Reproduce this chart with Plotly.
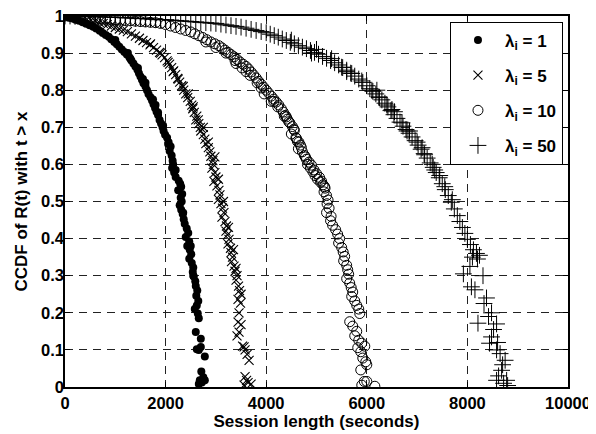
import plotly.graph_objects as go

# ---- data (session length in seconds, CCDF value) ----
x1 = [0, 40, 90, 150, 210, 280, 350, 420, 490, 560, 620, 690, 750, 810, 870, 920, 980, 1030, 1080, 1130,
      1180, 1230, 1280, 1320, 1360, 1400, 1440, 1470, 1500, 1530, 1560, 1600, 1630, 1660, 1700, 1730, 1760,
      1790, 1820, 1850, 1880, 1910, 1940, 1960, 1990, 2030, 2060, 2100, 2080, 2120, 2140, 2150, 2130, 2170,
      2200, 2260, 2290, 2310, 2250, 2330, 2300, 2320, 2280, 2310, 2340, 2360, 2380, 2420, 2450, 2400, 2470,
      2430, 2480, 2510, 2470, 2520, 2550, 2540, 2560, 2590, 2600, 2630, 2610, 2650, 2620, 2580, 2640, 2660,
      2600, 2700, 2620, 2700, 2660, 2780, 2710, 2750, 2680, 2720, 2780, 2660,
      1000, 1250, 1450, 1600, 1750, 1850, 1950, 2050, 2200, 2350, 2500, 2550, 1300, 1550, 1800]
y1 = [1.0, 0.998, 0.996, 0.993, 0.99, 0.987, 0.983, 0.979, 0.975, 0.971, 0.966, 0.96, 0.954, 0.949, 0.944,
      0.937, 0.93, 0.924, 0.917, 0.91, 0.903, 0.896, 0.889, 0.88, 0.872, 0.864, 0.855, 0.846, 0.837, 0.828,
      0.819, 0.81, 0.8, 0.79, 0.781, 0.772, 0.762, 0.752, 0.742, 0.733, 0.72, 0.71, 0.7, 0.69, 0.68, 0.672,
      0.66, 0.648, 0.636, 0.624, 0.61, 0.6, 0.59, 0.578, 0.566, 0.556, 0.548, 0.54, 0.53, 0.52, 0.51, 0.5,
      0.49, 0.478, 0.466, 0.452, 0.44, 0.427, 0.415, 0.404, 0.392, 0.38, 0.37, 0.358, 0.346, 0.334, 0.322,
      0.31, 0.298, 0.285, 0.272, 0.26, 0.246, 0.232, 0.22, 0.21, 0.198, 0.185, 0.148, 0.13, 0.102, 0.108,
      0.1, 0.082, 0.042, 0.026, 0.018, 0.012, 0.018, 0.008,
      0.935, 0.9, 0.86, 0.82, 0.775, 0.74, 0.705, 0.655, 0.585, 0.47, 0.38, 0.3, 0.885, 0.83, 0.76]

x5 = [0, 60, 130, 200, 280, 360, 440, 520, 600, 680, 760, 840, 920, 1000, 1080, 1160, 1240, 1320, 1400,
      1480, 1550, 1620, 1690, 1760, 1820, 1880, 1930, 1980, 2030, 2080, 2120, 2160, 2200, 2240, 2280, 2320,
      2360, 2400, 2440, 2490, 2520, 2540, 2570, 2620, 2600, 2660, 2690, 2700, 2750, 2780, 2800, 2850, 2880,
      2900, 2940, 2950, 2920, 2980, 3000, 2960, 3020, 3060, 3080, 3050, 3100, 3130, 3160, 3120, 3180, 3210,
      3200, 3230, 3260, 3240, 3290, 3300, 3330, 3310, 3360, 3380, 3420, 3400, 3450, 3470, 3440, 3490, 3460,
      3440, 3500, 3460, 3420, 3530, 3560, 3580, 3620, 3660, 3580, 3610, 3640, 3700, 3560,
      1700, 1900, 2050, 2150, 2250, 2350, 2450, 2550, 2650, 2750, 2850, 2980, 3050, 3150, 3250, 3350, 3400, 3500]
y5 = [1.0, 0.999, 0.998, 0.997, 0.995, 0.993, 0.991, 0.989, 0.986, 0.983, 0.98, 0.977, 0.973, 0.969,
      0.965, 0.962, 0.958, 0.952, 0.946, 0.94, 0.934, 0.928, 0.922, 0.915, 0.908, 0.902, 0.895, 0.888,
      0.879, 0.87, 0.861, 0.852, 0.842, 0.832, 0.822, 0.812, 0.8, 0.79, 0.78, 0.77, 0.76, 0.75, 0.74, 0.73,
      0.72, 0.71, 0.7, 0.69, 0.68, 0.668, 0.656, 0.645, 0.634, 0.622, 0.61, 0.6, 0.59, 0.578, 0.566, 0.554,
      0.542, 0.53, 0.518, 0.506, 0.494, 0.482, 0.47, 0.458, 0.446, 0.434, 0.42, 0.41, 0.398, 0.386, 0.374,
      0.362, 0.35, 0.338, 0.326, 0.312, 0.3, 0.288, 0.272, 0.26, 0.236, 0.226, 0.2, 0.175, 0.168, 0.148,
      0.138, 0.11, 0.108, 0.1, 0.088, 0.072, 0.028, 0.018, 0.012, 0.008, 0.005,
      0.925, 0.9, 0.875, 0.85, 0.83, 0.81, 0.79, 0.755, 0.72, 0.7, 0.66, 0.62, 0.56, 0.5, 0.43, 0.37, 0.32, 0.25]

x10 = [0, 100, 200, 300, 400, 500, 600, 700, 800, 900, 1000, 1100, 1200, 1300, 1400, 1500, 1600, 1700,
       1800, 1900, 2000, 2100, 2200, 2300, 2400, 2500, 2580, 2660, 2740, 2820, 2900, 2980, 3060, 3120, 3180,
       3240, 3300, 3360, 3420, 3480, 3540, 3600, 3650, 3700, 3750, 3800, 3850, 3900, 3950, 4000, 4050, 4100,
       4150, 4200, 4250, 4300, 4340, 4380, 4420, 4470, 4520, 4560, 4500, 4590, 4620, 4680, 4640, 4720, 4760,
       4800, 4850, 4900, 4880, 4930, 4970, 5020, 5080, 5130, 5170, 5150, 5200, 5230, 5210, 5250, 5200, 5290,
       5280, 5320, 5380, 5420, 5460, 5440, 5500, 5530, 5560, 5540, 5600, 5620, 5640, 5600, 5660, 5690, 5720,
       5700, 5760, 5800, 5840, 5860, 5660, 5720, 5800, 5760, 5840, 5900, 5820, 5880, 5960, 5920, 5980, 6000,
       5880, 5950, 6000, 5900, 6160,
       3200, 3380, 3520, 3680, 3820, 3960, 4100, 4230, 4360, 4450, 4550, 4600, 4700, 4780, 4820, 4950, 5000,
       5060, 5100, 5160, 3000, 2800, 3400, 3600, 3900, 4150, 4400, 4650]
y10 = [1.0, 0.999, 0.998, 0.997, 0.996, 0.995, 0.994, 0.993, 0.992, 0.991, 0.99, 0.989, 0.988, 0.987,
       0.986, 0.985, 0.984, 0.983, 0.982, 0.98, 0.977, 0.973, 0.969, 0.965, 0.961, 0.957, 0.952, 0.947,
       0.942, 0.936, 0.93, 0.925, 0.92, 0.914, 0.908, 0.902, 0.896, 0.89, 0.883, 0.876, 0.87, 0.864, 0.857,
       0.849, 0.841, 0.833, 0.824, 0.816, 0.808, 0.8, 0.792, 0.784, 0.776, 0.768, 0.76, 0.75, 0.741, 0.732,
       0.722, 0.712, 0.702, 0.692, 0.682, 0.672, 0.662, 0.652, 0.642, 0.634, 0.624, 0.614, 0.606, 0.598,
       0.59, 0.58, 0.57, 0.56, 0.552, 0.545, 0.536, 0.526, 0.516, 0.504, 0.494, 0.482, 0.47, 0.46, 0.448,
       0.436, 0.424, 0.412, 0.4, 0.388, 0.376, 0.364, 0.352, 0.34, 0.328, 0.316, 0.304, 0.292, 0.28, 0.268,
       0.256, 0.244, 0.232, 0.22, 0.21, 0.198, 0.176, 0.164, 0.15, 0.138, 0.126, 0.118, 0.106, 0.095, 0.11,
       0.078, 0.068, 0.06, 0.046, 0.015, 0.015, 0.005, 0.002,
       0.9, 0.88, 0.86, 0.84, 0.82, 0.79, 0.77, 0.755, 0.73, 0.715, 0.695, 0.67, 0.645, 0.62, 0.6, 0.585,
       0.575, 0.565, 0.555, 0.54, 0.915, 0.93, 0.872, 0.85, 0.806, 0.77, 0.728, 0.66]

x50 = [0, 100, 200, 300, 400, 500, 600, 700, 800, 900, 1000, 1100, 1200, 1300, 1400, 1500, 1600, 1700,
       1800, 1900, 2000, 2100, 2200, 2300, 2400, 2500, 2600, 2700, 2800, 2900, 3000, 3100, 3200, 3300, 3400,
       3500, 3600, 3700, 3800, 3900, 4000, 4080, 4160, 4240, 4320, 4400, 4480, 4560, 4640, 4720, 4800, 4880,
       4960, 5040, 5120, 5200, 5280, 5360, 5440, 5520, 5600, 5680, 5760, 5840, 5920, 6000, 6060, 6120, 6180,
       6240, 6300, 6360, 6420, 6480, 6540, 6600, 6660, 6720, 6780, 6840, 6900, 6960, 7020, 7080, 7140, 7200,
       7260, 7320, 7380, 7440, 7500, 7560, 7620, 7680, 7740, 7800, 7850, 7900, 7950, 8000, 8060, 8120, 8180,
       8240, 8100, 8200, 8050, 7920, 8310, 8080, 8150, 8380, 8330, 8480, 8420, 8210, 8580, 8520, 8480, 8440,
       8600, 8580, 8650, 8750, 8700, 8680, 8620, 8580, 8780, 8720, 8800,
       4500, 4900, 5300, 5500, 5700, 5900, 6100, 6250, 6400, 6550, 6700, 6850, 7000, 7150, 7300, 7450, 7550,
       7700, 7350, 7100, 6800, 6500, 6200, 5600, 5000]
y50 = [1.0, 1.0, 0.999, 0.999, 0.999, 0.998, 0.998, 0.998, 0.997, 0.997, 0.996, 0.996, 0.995, 0.995,
       0.994, 0.993, 0.993, 0.992, 0.991, 0.99, 0.99, 0.989, 0.988, 0.987, 0.986, 0.985, 0.984, 0.983,
       0.982, 0.981, 0.98, 0.978, 0.976, 0.974, 0.972, 0.97, 0.967, 0.964, 0.961, 0.958, 0.955, 0.951,
       0.947, 0.943, 0.938, 0.934, 0.929, 0.925, 0.92, 0.916, 0.912, 0.907, 0.902, 0.897, 0.891, 0.886,
       0.88, 0.874, 0.868, 0.861, 0.854, 0.846, 0.838, 0.83, 0.821, 0.812, 0.804, 0.797, 0.79, 0.782, 0.774,
       0.765, 0.755, 0.745, 0.734, 0.724, 0.714, 0.703, 0.694, 0.684, 0.674, 0.664, 0.652, 0.641, 0.629,
       0.617, 0.604, 0.592, 0.578, 0.564, 0.548, 0.532, 0.516, 0.498, 0.48, 0.462, 0.446, 0.43, 0.414,
       0.398, 0.384, 0.37, 0.36, 0.355, 0.35, 0.345, 0.325, 0.305, 0.3, 0.27, 0.262, 0.24, 0.225, 0.2,
       0.19, 0.172, 0.17, 0.155, 0.135, 0.118, 0.12, 0.1, 0.09, 0.072, 0.06, 0.045, 0.03, 0.018, 0.018,
       0.01, 0.004,
       0.935, 0.9, 0.885, 0.862, 0.845, 0.825, 0.8, 0.78, 0.76, 0.742, 0.712, 0.69, 0.66, 0.626, 0.6, 0.57,
       0.54, 0.505, 0.585, 0.645, 0.69, 0.748, 0.8, 0.85, 0.91]

names = ["λ<sub>i</sub> = 1", "λ<sub>i</sub> = 5", "λ<sub>i</sub> = 10", "λ<sub>i</sub> = 50"]
x_ticks = [0, 2000, 4000, 6000, 8000, 10000]
y_ticks = [0, 0.1, 0.2, 0.3, 0.4, 0.5, 0.6, 0.7, 0.8, 0.9, 1]
y_ticktext = ["0", "0.1", "0.2", "0.3", "0.4", "0.5", "0.6", "0.7", "0.8", "0.9", "1"]

FONT = "Liberation Sans, Arial, sans-serif"

fig = go.Figure()
styles = [
    dict(symbol="circle", size=8, color="black", line=dict(width=0)),
    dict(symbol="x-thin-open", size=9, color="black", line=dict(width=1.1, color="black")),
    dict(symbol="circle-open", size=10, color="black", line=dict(width=1, color="black")),
    dict(symbol="cross-thin-open", size=12, color="black", line=dict(width=1, color="black")),
]
for i, (xs, ys) in enumerate([(x1, y1), (x5, y5), (x10, y10), (x50, y50)]):
    fig.add_trace(go.Scatter(x=xs, y=ys, mode="markers", name=names[i], marker=styles[i],
                             legendgroup=f"g{i}", cliponaxis=True))

axis_common = dict(
    showline=True, linecolor="black", linewidth=1.5, mirror="ticks",
    ticks="inside", ticklen=5, tickcolor="black", tickwidth=1,
    showgrid=True, gridcolor="#222222", gridwidth=1, griddash="8px,6px",
    zeroline=False, automargin=False, ticklabeloverflow="allow",
    tickfont=dict(family=FONT, size=16.5, color="black", weight="bold"),
)

# the page body adds an 8px offset, so the figure is sized to fit the 596x434 window
fig.update_layout(
    width=588, height=426,
    margin=dict(l=57, r=28, t=8, b=47),
    paper_bgcolor="white", plot_bgcolor="white",
    font=dict(family=FONT, color="black", weight="bold"),
    showlegend=True,
    legend=dict(x=0.99, y=0.985, xanchor="right", yanchor="top", bgcolor="white",
                bordercolor="black", borderwidth=1,
                font=dict(family=FONT, size=17, color="black", weight="bold"),
                tracegroupgap=10, itemwidth=44),
    xaxis=dict(range=[0, 10000], tickvals=x_ticks, ticktext=[str(v) for v in x_ticks],
               title=dict(text="Session length (seconds)", standoff=0,
                          font=dict(family=FONT, size=17, color="black", weight="bold")),
               **axis_common),
    yaxis=dict(range=[0, 1], tickvals=y_ticks, ticktext=y_ticktext, ticklabelstandoff=-4,
               **axis_common),
    annotations=[dict(text="CCDF of R(t) with t > x", xref="paper", yref="paper",
                      x=-0.0855, y=0.5, xanchor="center", yanchor="middle", textangle=-90,
                      showarrow=False,
                      font=dict(family=FONT, size=17, color="black", weight="bold"))],
)

fig.write_html("out.html")
